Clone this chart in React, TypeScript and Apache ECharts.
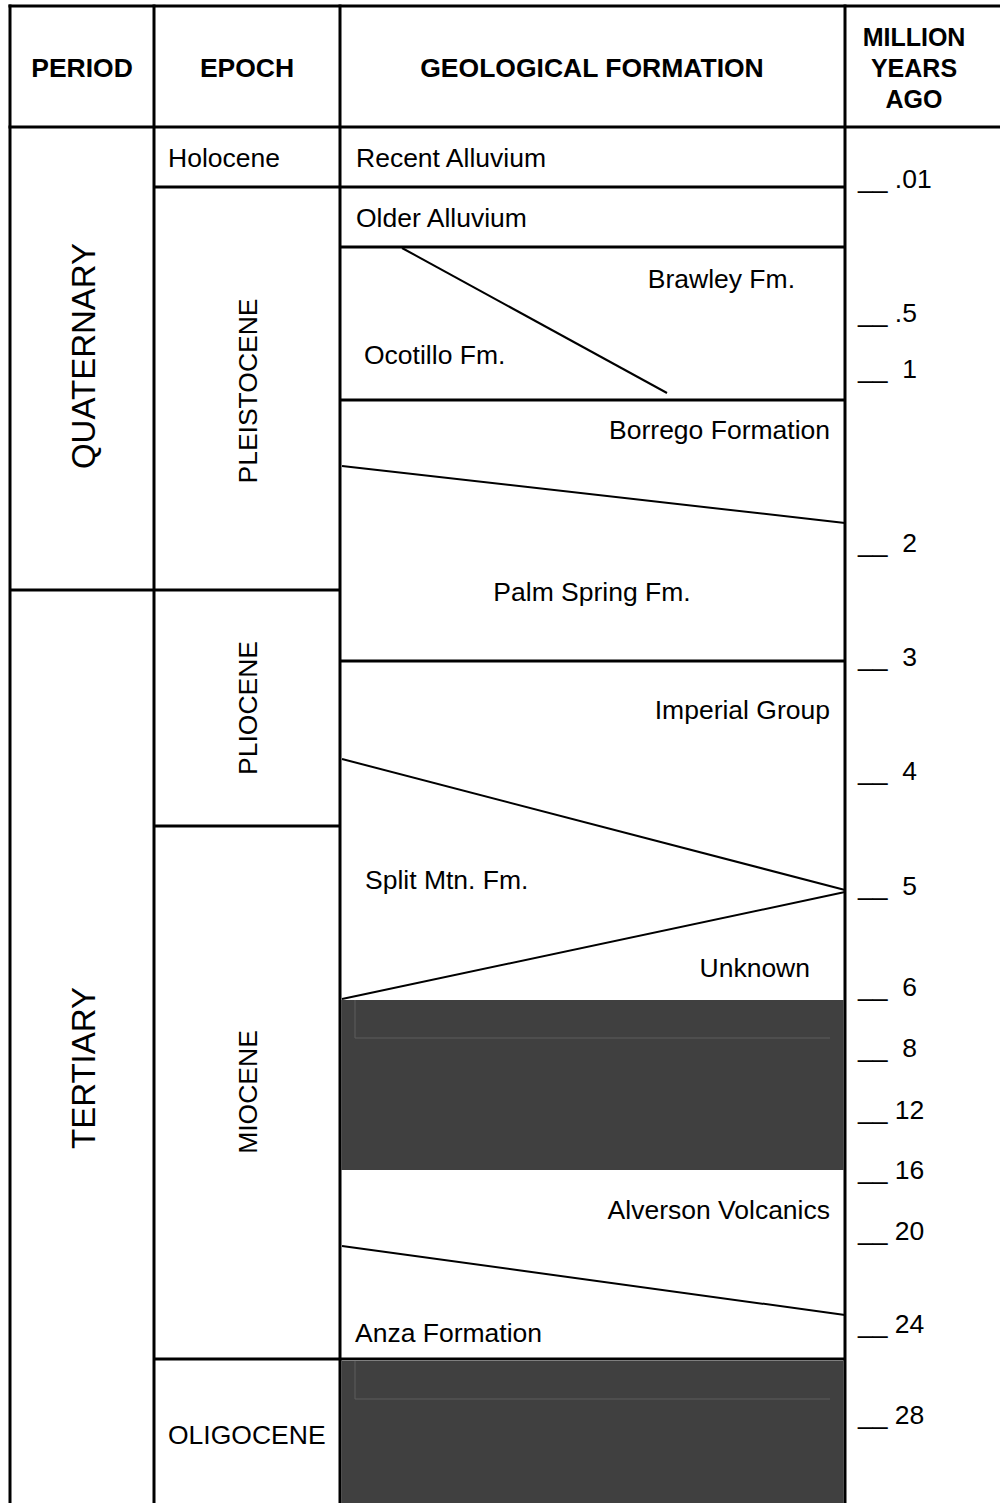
import { useEffect, useRef } from "react";
import * as echarts from "echarts";

// ---- data ----
const headers = ["PERIOD", "EPOCH", "GEOLOGICAL FORMATION", "MILLION\nYEARS\nAGO"];
const columnEdges = [10, 154, 340, 845, 1000];

const periods = ["QUATERNARY", "TERTIARY"];
const periodBounds = [127, 590, 1503];

const epochs = ["Holocene", "PLEISTOCENE", "PLIOCENE", "MIOCENE", "OLIGOCENE"];
const epochBounds = [127, 187, 590, 826, 1359, 1503];

const formations = [
  "Recent Alluvium",
  "Older Alluvium",
  "Brawley Fm.",
  "Ocotillo Fm.",
  "Borrego Formation",
  "Palm Spring Fm.",
  "Imperial Group",
  "Split Mtn. Fm.",
  "Unknown",
  "Alverson Volcanics",
  "Anza Formation",
];
const formationContacts = [187, 247, 400, 661, 1359];
const slantedContacts = [
  [402, 248, 667, 393],
  [342, 466, 845, 523],
  [342, 759, 845, 890],
  [845, 892, 342, 999],
  [342, 1246, 845, 1315],
];
const hiatuses = [
  [1000, 1170],
  [1361, 1503],
];

const ageLabels = [".01", ".5", "1", "2", "3", "4", "5", "6", "8", "12", "16", "20", "24", "28"];
const ageDepths = [179, 313, 369, 543, 657, 771, 886, 987, 1048, 1110, 1170, 1231, 1324, 1415];

// ---- layout ----
const headerCenters = [82, 247, 592, 914];
const headerSizes = [26.5, 26.5, 26.5, 25];
const periodLabelY = [356, 1068];
const epochLabelLayout = [
  { x: 168, y: 158, vertical: false },
  { x: 248, y: 391, vertical: true },
  { x: 248, y: 708, vertical: true },
  { x: 248, y: 1092, vertical: true },
  { x: 168, y: 1435, vertical: false },
];
const formationLabelLayout = [
  { x: 356, y: 158, align: "left" },
  { x: 356, y: 218, align: "left" },
  { x: 795, y: 279, align: "right" },
  { x: 364, y: 355, align: "left" },
  { x: 830, y: 430, align: "right" },
  { x: 592, y: 592, align: "center" },
  { x: 830, y: 710, align: "right" },
  { x: 365, y: 880, align: "left" },
  { x: 810, y: 968, align: "right" },
  { x: 830, y: 1210, align: "right" },
  { x: 355, y: 1333, align: "left" },
];

const FONT = "'Liberation Sans', Arial, sans-serif";
const BODY = 26.5;
const TOP = 6;

type Seg = [number, number, number, number, number];

function buildSegments(): Seg[] {
  const segs: Seg[] = [];
  segs.push([8.5, TOP, 1000, TOP, 3]);
  segs.push([8.5, periodBounds[0], 1000, periodBounds[0], 3]);
  for (let i = 0; i < 4; i++) segs.push([columnEdges[i], TOP - 1.5, columnEdges[i], 1503, 3]);
  for (let i = 1; i < periods.length; i++) segs.push([columnEdges[0], periodBounds[i], columnEdges[1], periodBounds[i], 3]);
  for (let i = 1; i < epochs.length; i++) segs.push([columnEdges[1], epochBounds[i], columnEdges[2], epochBounds[i], 3]);
  formationContacts.forEach((y) => segs.push([columnEdges[2], y, columnEdges[3], y, 3]));
  slantedContacts.forEach((s) => segs.push([s[0], s[1], s[2], s[3], 2]));
  return segs;
}

export default function App() {
  const ref = useRef<HTMLDivElement>(null);

  useEffect(() => {
    document.body.style.margin = "0";
    if (!ref.current) return;
    const chart = echarts.init(ref.current, undefined, { renderer: "svg" });
    const segs = buildSegments();

    const texts: any[] = [];
    headers.forEach((h, i) => {
      texts.push({
        text: h,
        x: headerCenters[i],
        y: 68,
        align: "center",
        bold: true,
        size: headerSizes[i],
        rotate: false,
      });
    });
    periods.forEach((p, i) => {
      texts.push({
        text: p,
        x: (columnEdges[0] + columnEdges[1]) / 2 + 1,
        y: periodLabelY[i],
        align: "center",
        size: 33,
        rotate: true,
      });
    });
    epochs.forEach((e, i) => {
      const l = epochLabelLayout[i];
      texts.push({ text: e, x: l.x, y: l.y, align: l.vertical ? "center" : "left", size: BODY, rotate: l.vertical });
    });
    formations.forEach((f, i) => {
      const l = formationLabelLayout[i];
      texts.push({ text: f, x: l.x, y: l.y, align: l.align, size: BODY, rotate: false });
    });
    ageLabels.forEach((a, i) => {
      texts.push({
        text: "__ " + (a.length === 1 ? " " + a : a),
        x: 858,
        y: ageDepths[i],
        align: "left",
        size: BODY,
        rotate: false,
      });
    });

    chart.setOption({
      animation: false,
      grid: { left: 0, right: 0, top: 0, bottom: 0 },
      xAxis: { type: "value", min: 0, max: 1000, show: false },
      yAxis: { type: "value", min: 0, max: 1503, inverse: true, show: false },
      series: [
        {
          type: "custom",
          name: "hiatus",
          data: hiatuses.map((_, i) => i),
          renderItem: (params: any, api: any) => {
            const h = hiatuses[params.dataIndex];
            const p1 = api.coord([columnEdges[2] + 1.5, h[0]]);
            const p2 = api.coord([columnEdges[3] - 1.5, h[1]]);
            const q1 = api.coord([355, h[0]]);
            const q2 = api.coord([830, h[0] + 38]);
            return {
              type: "group",
              children: [
                { type: "rect", shape: { x: p1[0], y: p1[1], width: p2[0] - p1[0], height: p2[1] - p1[1] }, style: { fill: "#404040" } },
                { type: "line", shape: { x1: q1[0], y1: q1[1], x2: q1[0], y2: q2[1] }, style: { stroke: "#5c5c5c", lineWidth: 1 } },
                { type: "line", shape: { x1: q1[0], y1: q2[1], x2: q2[0], y2: q2[1] }, style: { stroke: "#5c5c5c", lineWidth: 1 } },
              ],
            };
          },
        },
        {
          type: "custom",
          name: "lines",
          data: segs.map((_, i) => i),
          renderItem: (params: any, api: any) => {
            const s = segs[params.dataIndex];
            const a = api.coord([s[0], s[1]]);
            const b = api.coord([s[2], s[3]]);
            return {
              type: "line",
              shape: { x1: a[0], y1: a[1], x2: b[0], y2: b[1] },
              style: { stroke: "#000", lineWidth: s[4], lineCap: "butt" },
            };
          },
        },
        {
          type: "custom",
          name: "texts",
          data: texts.map((_, i) => i),
          renderItem: (params: any, api: any) => {
            const t = texts[params.dataIndex];
            const p = api.coord([t.x, t.y]);
            return {
              type: "text",
              x: p[0],
              y: p[1],
              rotation: t.rotate ? Math.PI / 2 : 0,
              style: {
                text: t.text,
                fill: "#000",
                fontSize: t.size,
                fontFamily: FONT,
                fontWeight: t.bold ? "bold" : "normal",
                align: t.align,
                verticalAlign: "middle",
                lineHeight: 31,
              },
            };
          },
        },
      ],
    });
    return () => chart.dispose();
  }, []);

  return <div ref={ref} style={{ width: 1000, height: 1503 }} />;
}
